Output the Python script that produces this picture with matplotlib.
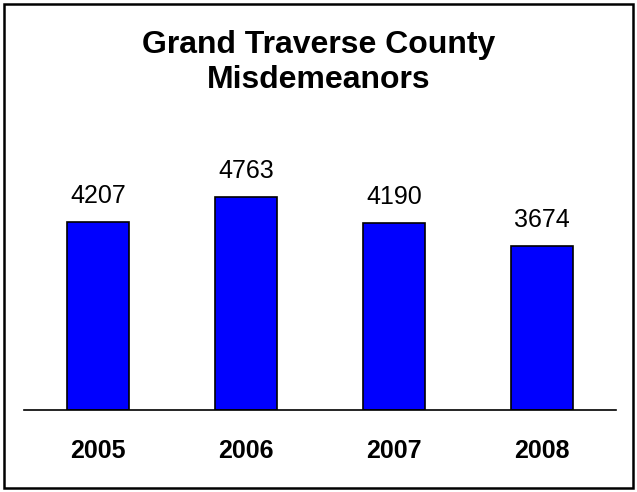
import matplotlib.pyplot as plt
from matplotlib.patches import Rectangle

years = ['2005', '2006', '2007', '2008']
counts = [4207, 4763, 4190, 3674]

plt.rcParams['font.family'] = ['Liberation Sans', 'DejaVu Sans']

fig = plt.figure(figsize=(6.37, 4.92), dpi=100)
ax = fig.add_axes([24 / 637, 82 / 492, 592 / 637, 280 / 492])

x = range(len(years))
bars = ax.bar(x, counts, width=0.42, color='#0000ff', edgecolor='black', linewidth=1.2)
for b, v in zip(bars, counts):
    ax.annotate(str(v), (b.get_x() + b.get_width() / 2, v), xytext=(0, 10),
                textcoords='offset points', ha='center', va='bottom', fontsize=18)

ax.set_xlim(-0.5, 3.5)
ax.set_ylim(0, 6264)
ax.set_xticks(list(x))
ax.set_xticklabels(years, fontsize=18, fontweight='bold')
ax.tick_params(axis='x', length=0, pad=21)
ax.set_yticks([])
for s in ['top', 'right', 'left']:
    ax.spines[s].set_visible(False)
ax.spines['bottom'].set_linewidth(1.2)

fig.text(0.5, 1 - 53 / 492, 'Grand Traverse County', ha='center', va='baseline',
         fontsize=23, fontweight='bold')
fig.text(0.5, 1 - 88 / 492, 'Misdemeanors', ha='center', va='baseline',
         fontsize=23, fontweight='bold')

fig.patches.append(Rectangle((4 / 637, 4 / 492), 629 / 637, 484 / 492, transform=fig.transFigure,
                             fill=False, edgecolor='black', linewidth=1.8))

fig.savefig('out.png', dpi=100)
